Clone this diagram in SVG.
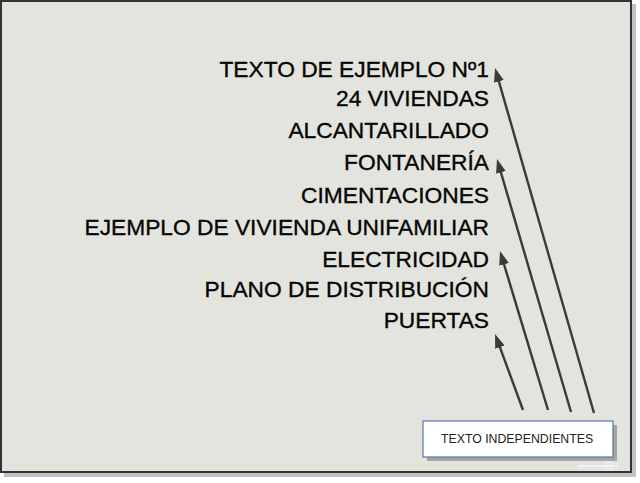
<svg xmlns="http://www.w3.org/2000/svg" width="640" height="483" viewBox="0 0 640 483">
<style>
.lbl{font-family:"Liberation Sans",Arial,sans-serif;font-size:22.75px;fill:#050505;stroke:#050505;stroke-width:0.35;text-anchor:end}
.conn{stroke:#3a3a3a;stroke-width:2.4;fill:none}
.box{font-family:"Liberation Sans",Arial,sans-serif;font-size:12.3px;fill:#222222}
</style>
<defs>
<marker id="ah" viewBox="0 0 14 10" refX="4" refY="5" markerWidth="14" markerHeight="10" markerUnits="userSpaceOnUse" orient="auto">
<path d="M0,0 L14,5 L0,10 z" fill="#3a3a3a"/>
</marker>
</defs>
<rect x="0" y="0" width="640" height="483" fill="#ffffff"/>
<g id="frame">
<rect x="4" y="4" width="632" height="473" fill="#9a9a9a" opacity="0.6"/>
<rect x="1" y="1" width="630" height="471" fill="#e4e4de" stroke="#333333" stroke-width="2"/>
<line x1="578" y1="466" x2="618" y2="466" stroke="#f4f4f0" stroke-width="1.5"/>
<rect x="606" y="462" width="6" height="8" fill="none" stroke="#f4f4f0" stroke-width="1"/>
</g>
<g id="labels">
<text id="t1" class="lbl" x="489" y="77">TEXTO DE EJEMPLO Nº1</text>
<text id="t2" class="lbl" x="489" y="106">24 VIVIENDAS</text>
<text id="t3" class="lbl" x="489" y="138">ALCANTARILLADO</text>
<text id="t4" class="lbl" x="489" y="170">FONTANERÍA</text>
<text id="t5" class="lbl" x="489" y="203">CIMENTACIONES</text>
<text id="t6" class="lbl" x="489" y="235">EJEMPLO DE VIVIENDA UNIFAMILIAR</text>
<text id="t7" class="lbl" x="489" y="267">ELECTRICIDAD</text>
<text id="t8" class="lbl" x="489" y="297">PLANO DE DISTRIBUCIÓN</text>
<text id="t9" class="lbl" x="489" y="328">PUERTAS</text>
</g>
<g id="connectors">
<line class="conn" x1="594" y1="413" x2="497.8" y2="77.6" marker-end="url(#ah)"/>
<line class="conn" x1="571" y1="412" x2="499.8" y2="168.6" marker-end="url(#ah)"/>
<line class="conn" x1="548" y1="410" x2="502.9" y2="260.6" marker-end="url(#ah)"/>
<line class="conn" x1="523" y1="410" x2="498.5" y2="343.4" marker-end="url(#ah)"/>
</g>
<g id="callout">
<rect x="427" y="425" width="190" height="36" fill="#8c8c8c" opacity="0.7"/>
<rect x="423" y="421" width="190" height="36" fill="#ffffff" stroke="#5577aa" stroke-width="1.2"/>
<text class="box" x="441" y="443">TEXTO INDEPENDIENTES</text>
</g>
</svg>
